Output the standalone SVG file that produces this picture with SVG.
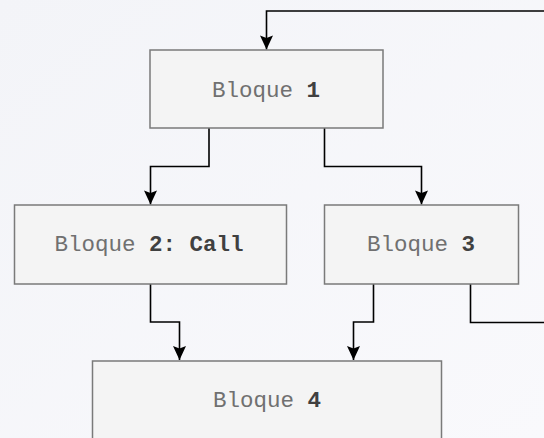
<svg xmlns="http://www.w3.org/2000/svg" width="544" height="438" viewBox="0 0 544 438">
  <defs>
    <linearGradient id="bg" x1="0" y1="0" x2="1" y2="1">
      <stop offset="0" stop-color="#f3f4f8"/>
      <stop offset="1" stop-color="#f9f9fc"/>
    </linearGradient>
    <!-- arrowhead drawn along the path direction, tip at the origin -->
    <marker id="arrow" viewBox="-15 -8 16 16" refX="0" refY="0" markerWidth="16" markerHeight="16" markerUnits="userSpaceOnUse" orient="auto">
      <path d="M0,0 L-14,-6.5 L-11.5,0 L-14,6.5 Z" fill="#000"/>
    </marker>
    <style>
      .box { fill: #f4f4f4; stroke: #7a7a7a; stroke-width: 1.5; }
      .edge { fill: none; stroke: #000; stroke-width: 1.6; }
      .label { font-family: "Courier New", "Liberation Mono", monospace; font-size: 22.5px; fill: #707070; text-anchor: middle; }
      .num { font-weight: bold; fill: #404040; }
    </style>
  </defs>

  <rect width="544" height="438" fill="url(#bg)"/>

  <!-- connectors -->
  <g id="connectors">
    <path class="edge" d="M544,11 H266.5 V49.5" marker-end="url(#arrow)"/>
    <path class="edge" d="M209,128 V166.5 H150.5 V204.5" marker-end="url(#arrow)"/>
    <path class="edge" d="M324.5,128 V166.5 H421.5 V204.5" marker-end="url(#arrow)"/>
    <path class="edge" d="M150.5,284 V322 H179.5 V360" marker-end="url(#arrow)"/>
    <path class="edge" d="M373.5,284 V322 H353.5 V360" marker-end="url(#arrow)"/>
    <path class="edge" d="M470.5,284 V322.5 H544"/>
  </g>

  <!-- blocks -->
  <g id="bloque1">
    <rect class="box" x="150" y="50" width="233" height="78"/>
    <text class="label" x="266" y="97">Bloque <tspan class="num">1</tspan></text>
  </g>
  <g id="bloque2">
    <rect class="box" x="14.5" y="205" width="272" height="79"/>
    <text class="label" x="149" y="251">Bloque <tspan class="num">2: Call</tspan></text>
  </g>
  <g id="bloque3">
    <rect class="box" x="324.5" y="205" width="194" height="79"/>
    <text class="label" x="421" y="251">Bloque <tspan class="num">3</tspan></text>
  </g>
  <g id="bloque4">
    <rect class="box" x="92.5" y="361" width="349" height="80"/>
    <text class="label" x="267" y="407">Bloque <tspan class="num">4</tspan></text>
  </g>
</svg>
